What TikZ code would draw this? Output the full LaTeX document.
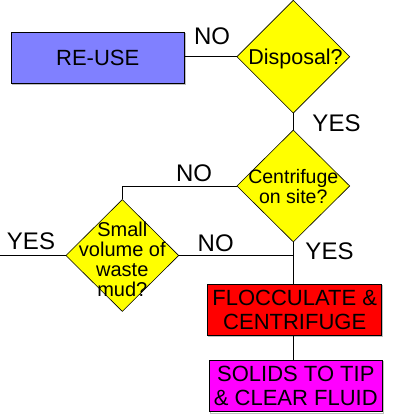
\documentclass[tikz,border=0pt]{standalone}
\usepackage{fontspec}
\setmainfont{Liberation Sans}
\usetikzlibrary{shapes.geometric}

\definecolor{reuseblue}{RGB}{128,128,255}
\definecolor{flocred}{RGB}{255,0,0}
\definecolor{solidmag}{RGB}{255,0,255}
\definecolor{decyellow}{RGB}{255,255,0}

\begin{document}
\begin{tikzpicture}[x=1pt,y=1pt,
  actionbox/.style={draw=black, line width=0.8pt, inner sep=0pt, align=center,
    minimum width=173pt, minimum height=51pt,
    font=\fontsize{22}{24}\selectfont,
    preaction={draw=black!25, line width=1pt,
      transform canvas={shift={(1.2pt,-1.2pt)}}}},
  decision/.style={shape=diamond, draw=black, fill=decyellow, line width=0.6pt,
    minimum width=113pt, minimum height=113pt, inner sep=0pt},
  dectext/.style={align=center, inner sep=0pt},
  flow/.style={draw=black, line width=0.9pt},
  answer/.style={font=\fontsize{24}{24}\selectfont, inner sep=0pt},
]
\useasboundingbox (0,0) rectangle (392,417);

% decisions
\node[decision] (disp) at (293.3,360.3) {};
\node[decision, minimum height=112pt] (cent) at (293.3,231) {};
\node[decision, minimum height=112pt] (small) at (122.3,161.5) {};

\node[dectext, font=\fontsize{21.5}{22}\selectfont, anchor=base] (dispT) at (295.5,352.7) {Disposal?};
\node[dectext, font=\fontsize{19.5}{20}\selectfont] (centT) at ([yshift=-1pt]cent.center) {Centrifuge\\on site?};
\node[dectext, font=\fontsize{20}{20}\selectfont] (smallT) at ([yshift=-4pt]small.center) {Small\\volume of\\waste\\mud?};

% actions
\node[actionbox, fill=reuseblue] (reuse) at (97.7,359.5) {RE-USE};
\node[actionbox, fill=flocred, minimum width=174pt] (floc) at (294.7,107.5) {FLOCCULATE \&\\CENTRIFUGE};
\node[actionbox, fill=solidmag, minimum width=173.7pt, minimum height=51.7pt] (solids) at (295.8,31) {SOLIDS TO TIP\\\& CLEAR FLUID};

% connectors
\coordinate (leftend) at (0,161.5);
\coordinate (joint) at (293.3,161.5);
\draw[flow] (disp.west) -- (disp.west -| reuse.east);
\draw[flow] (disp.south) -- (cent.north);
\draw[flow] (cent.west) -| (small.north);
\draw[flow] (small.west) -- (leftend);
\draw[flow] (small.east) -- (joint);
\draw[flow] (cent.south) -- (cent.south |- floc.north);
\draw[flow] (cent.south |- floc.south) -- (cent.south |- solids.north);

% answers
\node[answer] (no1) at (212,381) {NO};
\node[answer] (yes1) at (336.5,294) {YES};
\node[answer] (no2) at (194,243.3) {NO};
\node[answer] (yes2) at (31,175.5) {YES};
\node[answer] (no3) at (215.7,174) {NO};
\node[answer] (yes3) at (329.5,166) {YES};
\end{tikzpicture}
\end{document}
